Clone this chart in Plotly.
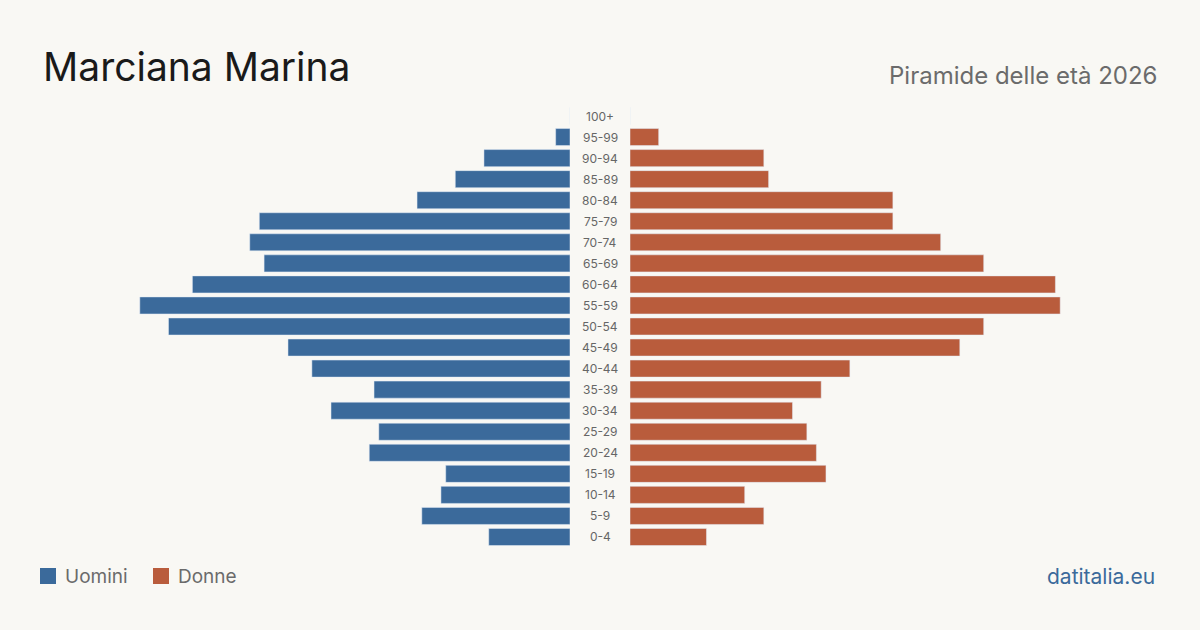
import plotly.graph_objects as go

age_groups = ["0-4", "5-9", "10-14", "15-19", "20-24", "25-29", "30-34", "35-39",
              "40-44", "45-49", "50-54", "55-59", "60-64", "65-69", "70-74", "75-79",
              "80-84", "85-89", "90-94", "95-99", "100+"]
men = [17, 31, 27, 26, 42, 40, 50, 41, 54, 59, 84, 90, 79, 64, 67, 65, 32, 24, 18, 3, 0]
women = [16, 28, 24, 41, 39, 37, 34, 40, 46, 69, 74, 90, 89, 74, 65, 55, 55, 29, 28, 6, 0]

title = "Marciana Marina"
subtitle = "Piramide delle età 2026"
legend_labels = ["Uomini", "Donne"]
source = "datitalia.eu"

BLUE = "#3b6a9b"
ORANGE = "#b95c3c"
BG = "#f9f8f4"
FONT = "Inter"

W, H = 1200, 630
xmax = 119.25

fig = go.Figure()
fig.add_trace(go.Bar(y=age_groups, x=men, orientation="h", marker_color=BLUE,
                     xaxis="x", yaxis="y", name=legend_labels[0], showlegend=False))
fig.add_trace(go.Bar(y=age_groups, x=women, orientation="h", marker_color=ORANGE,
                     xaxis="x2", yaxis="y", name=legend_labels[1], showlegend=False))

y_bottom = (630 - 547.5) / H
y_top = (630 - 105.5) / H

fig.update_layout(
    width=W, height=H,
    margin=dict(l=0, r=0, t=0, b=0),
    paper_bgcolor=BG, plot_bgcolor="rgba(0,0,0,0)",
    bargap=0.19,
    font=dict(family=FONT, color="#666666"),
    xaxis=dict(domain=[0, 570 / W], range=[xmax, 0], visible=False, fixedrange=True),
    xaxis2=dict(domain=[630 / W, 1], range=[0, xmax], visible=False, fixedrange=True),
    yaxis=dict(domain=[y_bottom, y_top], type="category", categoryorder="array",
               categoryarray=age_groups, visible=False, fixedrange=True),
)

annotations = []
for ag in age_groups:
    annotations.append(dict(x=600 / W, xref="paper", y=ag, yref="y", text=ag,
                            showarrow=False, xanchor="center", yanchor="middle",
                            font=dict(size=12, color="#666666", family=FONT)))

annotations.append(dict(x=41 / W, y=(630 - 81) / H, xref="paper", yref="paper", text=title,
                        showarrow=False, xanchor="left", yanchor="bottom", yshift=-11,
                        font=dict(size=39, color="#1a1a1a", family=FONT)))
annotations.append(dict(x=1159 / W, y=(630 - 85) / H, xref="paper", yref="paper", text=subtitle,
                        showarrow=False, xanchor="right", yanchor="bottom", yshift=-7,
                        font=dict(size=24, color="#6b6b6b", family=FONT)))
annotations.append(dict(x=63 / W, y=(630 - 576) / H, xref="paper", yref="paper", text=legend_labels[0],
                        showarrow=False, xanchor="left", yanchor="middle",
                        font=dict(size=19, color="#6b6b6b", family=FONT)))
annotations.append(dict(x=176 / W, y=(630 - 576) / H, xref="paper", yref="paper", text=legend_labels[1],
                        showarrow=False, xanchor="left", yanchor="middle",
                        font=dict(size=19, color="#6b6b6b", family=FONT)))
annotations.append(dict(x=1157 / W, y=(630 - 576) / H, xref="paper", yref="paper", text=source,
                        showarrow=False, xanchor="right", yanchor="middle",
                        font=dict(size=21, color="#3b6a9b", family=FONT)))

shapes = [
    dict(type="rect", xref="paper", yref="paper", x0=40 / W, x1=56 / W,
         y0=(630 - 584) / H, y1=(630 - 568) / H, fillcolor=BLUE, line=dict(width=0)),
    dict(type="rect", xref="paper", yref="paper", x0=153 / W, x1=169 / W,
         y0=(630 - 584) / H, y1=(630 - 568) / H, fillcolor=ORANGE, line=dict(width=0)),
]

fig.update_layout(annotations=annotations, shapes=shapes)
fig.write_html("out.html")
